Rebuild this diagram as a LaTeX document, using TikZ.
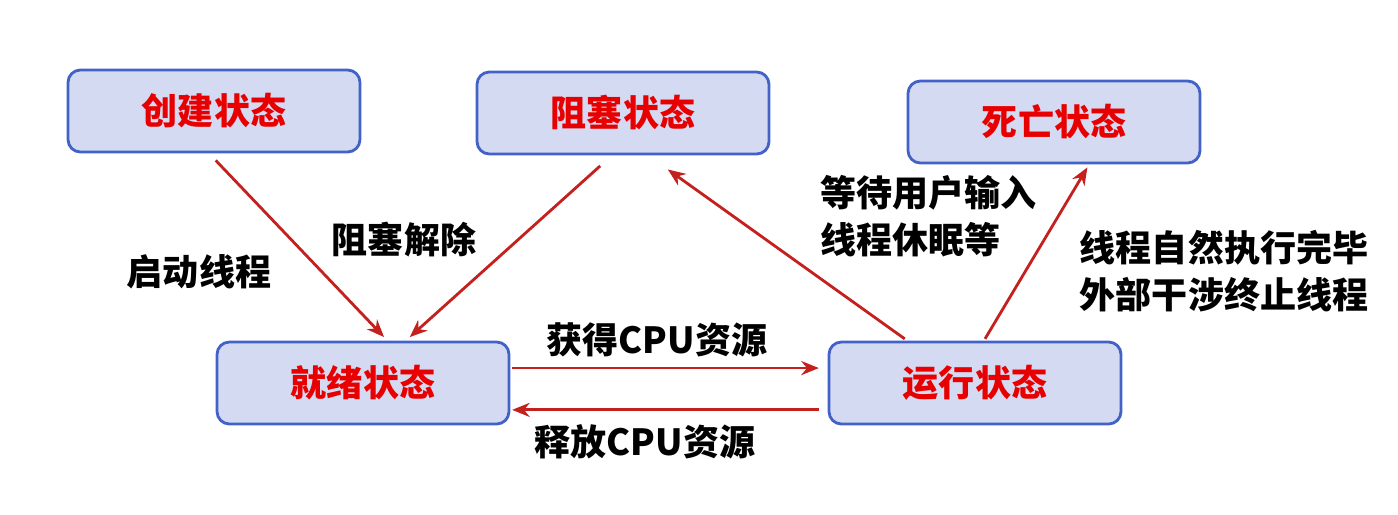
\documentclass[tikz,border=0pt]{standalone}
\usepackage{fontspec}
\newfontfamily\cjk{Noto Sans CJK SC}
\usetikzlibrary{arrows.meta}
\definecolor{boxfill}{HTML}{D3DAF2}
\definecolor{boxline}{HTML}{4262C8}
\definecolor{statered}{HTML}{E80000}
\definecolor{flowred}{HTML}{C4201E}
\begin{document}
\begin{tikzpicture}[x=0.02cm,y=-0.02cm]
    \tikzstyle{state}=[rectangle,draw=boxline,fill=boxfill,line width=1.6pt,rounded corners=7pt,minimum width=5.84cm,minimum height=1.64cm,font=\cjk\bfseries\fontsize{20.5pt}{24pt}\selectfont,text=statered]
    \tikzstyle{label}=[font=\cjk\bfseries\fontsize{20.5pt}{26.6pt}\selectfont,text=black,inner sep=0pt]
    \tikzstyle{flow}=[line width=1.6pt,flowred,-{Stealth[length=10pt,width=8pt]}]
    \useasboundingbox (0,0) rectangle (1398,514);
	\node (create) at (214,111)  [state] {创建状态};
	\node (block)  at (623,113)  [state] {阻塞状态};
	\node (dead)   at (1054,122) [state] {死亡状态};
	\node (ready)  at (363,383)  [state] {就绪状态};
	\node (run)    at (975,383)  [state] {运行状态};
	\node (start)  at (199,272)  [label] {启动线程};
	\node (unblk)  at (404,240)  [label] {阻塞解除};
	\node (getcpu) at (657,340)  [label] {获得CPU资源};
	\node (relcpu) at (645,442)  [label] {释放CPU资源};
	\node (wait)   at (820,216)  [label,anchor=west,align=left] {等待用户输入\\线程休眠等};
	\node (finish) at (1224,271) [label,align=left] {线程自然执行完毕\\外部干涉终止线程};
	\draw [flow] ([xshift=1pt,yshift=-4pt]create.south) -- ([xshift=12pt,yshift=2pt]ready.north);
	\draw [flow] ([xshift=-13pt,yshift=-6pt]block.south) -- ([xshift=26.6pt,yshift=2pt]ready.north);
	\draw [flow] ([xshift=-40pt,yshift=1pt]run.north) -- ([xshift=25.5pt,yshift=-8pt]block.south);
	\draw [flow] ([xshift=5.7pt,yshift=1pt]run.north) -- ([xshift=19pt,yshift=-1.7pt]dead.south);
	\draw [flow] ([xshift=1pt,yshift=8.5pt]ready.east) -- ([xshift=-5pt,yshift=8.5pt]run.west);
	\draw [flow] ([xshift=-5pt,yshift=-15.3pt]run.west) -- ([xshift=1pt,yshift=-15.3pt]ready.east);
\end{tikzpicture}
\end{document}
